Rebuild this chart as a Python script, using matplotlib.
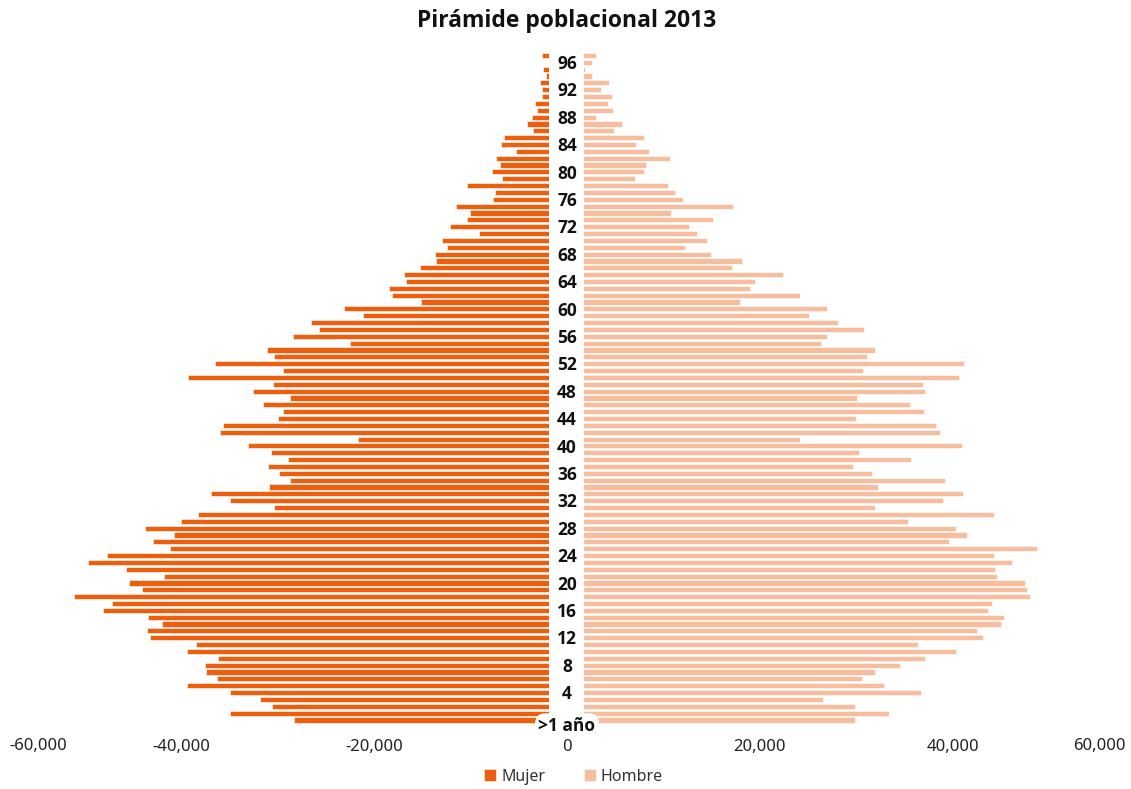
import matplotlib.pyplot as plt
import numpy as np
from matplotlib.ticker import FuncFormatter

plt.rcParams['font.family'] = ['Noto Sans', 'DejaVu Sans']
negrita = ['Open Sans', 'DejaVu Sans']

# Edad 0 (>1 año) hasta 97
edades = np.arange(0, 98)

mujer = [28290, 34960, 30540, 31780, 34960, 39380, 36270, 37380, 37480, 36200,
         39380, 38480, 43250, 43490, 41970, 43420, 48080, 47180, 51060, 44010,
         45390, 41730, 45670, 49640, 47670, 41110, 42940, 40690, 43730, 39970,
         38240, 30360, 34890, 36860, 30920, 28670, 29880, 31020, 28880, 30670,
         33060, 21660, 35920, 35610, 29910, 29460, 31540, 28700, 32570, 30430,
         39310, 29460, 36510, 30360, 31090, 22490, 28360, 25660, 26560, 21180,
         23150, 15170, 18100, 18450, 16720, 16890, 15230, 13540, 13680, 12470,
         12950, 9120, 12160, 10360, 10090, 11500, 7700, 7460, 10360, 6700,
         7770, 6980, 7390, 5320, 6870, 6490, 3520, 4180, 3630, 3110,
         3280, 2560, 2560, 2800, 2140, 2450, 1500, 2560]

hombre = [29840, 33370, 29840, 26490, 36650, 32850, 30570, 31880, 34510, 37060,
          40280, 36410, 43080, 42490, 44940, 45250, 43630, 44040, 47980, 47630,
          47430, 44530, 44350, 46150, 44280, 48710, 39620, 41490, 40280, 35340,
          44250, 31880, 38930, 41070, 32230, 39210, 31610, 29600, 35650, 30220,
          40900, 24150, 38690, 38200, 29910, 37030, 35510, 30090, 37130, 36860,
          40590, 30710, 41170, 31050, 31880, 26290, 26940, 30810, 28120, 25080,
          26940, 17930, 24150, 19000, 19450, 22420, 17060, 18130, 14920, 12260,
          14540, 13470, 12680, 15130, 10780, 17170, 12020, 11190, 10470, 7080,
          7980, 8150, 10670, 8500, 7150, 7980, 4870, 5660, 3000, 4770,
          4210, 4700, 3490, 4390, 2590, 1900, 2590, 3040]

etiquetas_edad = list(range(4, 97, 4))

color_mujer = '#EC5F0E'
color_hombre = '#F6BE9E'

fig = plt.figure(figsize=(11.31, 7.89), dpi=100)
ax = fig.add_axes([0, 0.081, 1, 0.857])

ax.barh(edades, [-v for v in mujer], height=0.75, color=color_mujer,
        edgecolor='white', linewidth=0.4, label='Mujer')
ax.barh(edades, hombre, height=0.75, color=color_hombre,
        edgecolor='white', linewidth=0.4, label='Hombre')

# franja blanca central donde van las edades
ax.axvspan(-1860, 1790, color='white', zorder=3, lw=0)

for e in etiquetas_edad:
    ax.text(0, e - 0.25, str(e), ha='center', va='center', fontsize=12.5,
            family=negrita, fontweight='bold', color='#111111', zorder=4)
ax.text(0, -0.85, '>1 año', ha='center', va='center', fontsize=12.5,
        family=negrita, fontweight='bold', color='#111111', zorder=4,
        bbox=dict(boxstyle='round,pad=0.2,rounding_size=0.6', fc='white', ec='none'))

ax.set_xlim(-58756, 58446)
ax.set_ylim(-0.75, 97.95)

fmt = FuncFormatter(lambda v, p: f'{v:,.0f}')
ax.set_xticks([-40000, -20000, 0, 20000, 40000])
ax.xaxis.set_major_formatter(fmt)
ax.tick_params(axis='x', length=0, pad=10, labelsize=12, labelcolor='#222222')
ax.set_yticks([])
for s in ax.spines.values():
    s.set_visible(False)

# extremos del eje, ajustados hacia dentro
ax.text(0.008, -0.031, fmt(-60000), transform=ax.transAxes, ha='left', va='center',
        fontsize=12, color='#222222')
ax.text(0.995, -0.031, fmt(60000), transform=ax.transAxes, ha='right', va='center',
        fontsize=12, color='#222222')

fig.text(0.501, 0.973, 'Pirámide poblacional 2013', ha='center', va='center',
         fontsize=16.5, family=negrita, fontweight='bold', color='#111111')

fig.legend(loc='center', bbox_to_anchor=(0.507, 0.0155), ncol=2, frameon=False,
           fontsize=11.5, handlelength=0.75, handleheight=0.75, handletextpad=0.3,
           columnspacing=2.4, labelcolor='#333333')

fig.savefig('out.png', dpi=100)
